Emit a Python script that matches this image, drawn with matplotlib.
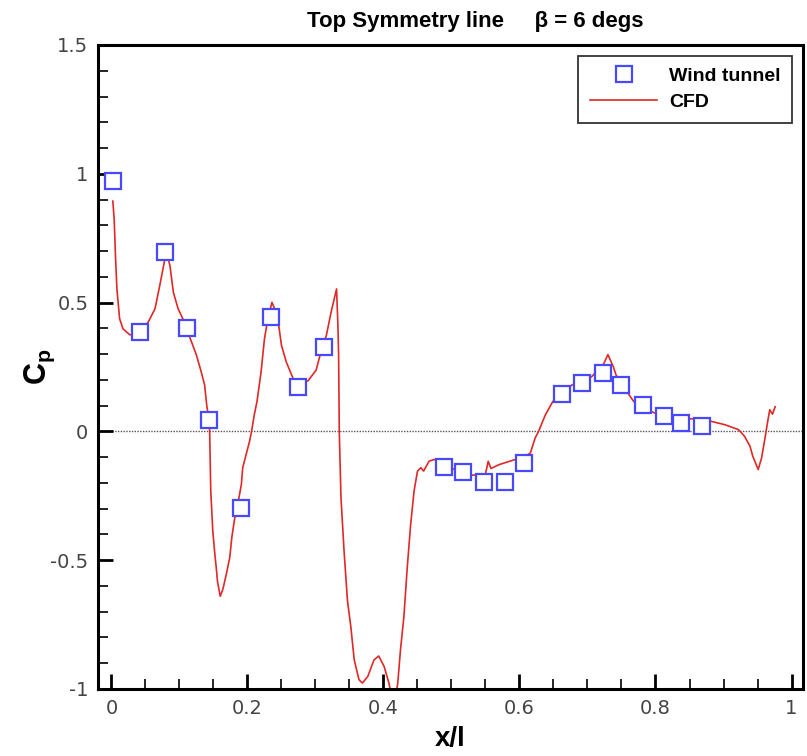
import matplotlib
matplotlib.use("Agg")
import matplotlib.pyplot as plt
from matplotlib.ticker import MultipleLocator
from matplotlib.legend_handler import HandlerLine2D

plt.rcParams['font.family'] = ['Liberation Sans', 'DejaVu Sans']
plt.rcParams['axes.unicode_minus'] = False
plt.rcParams['mathtext.default'] = 'regular'

# Wind tunnel pressure taps along the top symmetry line
wt_x = [0.002, 0.042, 0.079, 0.111, 0.143, 0.191, 0.235, 0.274, 0.313,
        0.489, 0.517, 0.548, 0.579, 0.606, 0.663, 0.692, 0.723, 0.750,
        0.781, 0.812, 0.838, 0.869]
wt_cp = [0.971, 0.386, 0.697, 0.402, 0.044, -0.297, 0.445, 0.171, 0.327,
         -0.139, -0.159, -0.197, -0.197, -0.122, 0.145, 0.188, 0.225, 0.182,
         0.101, 0.059, 0.034, 0.022]

# CFD surface pressure extracted on the same line
cfd_x = [0.002, 0.004, 0.006, 0.008, 0.012, 0.017, 0.027, 0.035, 0.042, 0.054,
         0.064, 0.071, 0.078, 0.082, 0.086, 0.091, 0.098, 0.105, 0.115, 0.125,
         0.132, 0.137, 0.140, 0.143, 0.1444, 0.146, 0.149, 0.152, 0.154, 0.156,
         0.160, 0.164, 0.169, 0.174, 0.177, 0.181, 0.187, 0.191, 0.193, 0.198,
         0.203, 0.206, 0.210, 0.214, 0.220, 0.225, 0.230, 0.236, 0.240, 0.246,
         0.250, 0.257, 0.267, 0.274, 0.289, 0.301, 0.308, 0.316, 0.323, 0.331,
         0.333, 0.334, 0.335, 0.3375, 0.342, 0.347, 0.352, 0.357, 0.364, 0.369,
         0.377, 0.386, 0.393, 0.401, 0.408, 0.412, 0.418, 0.421, 0.425, 0.430,
         0.435, 0.440, 0.445, 0.450, 0.455, 0.459, 0.467, 0.474, 0.490, 0.504,
         0.517, 0.531, 0.550, 0.554, 0.558, 0.570, 0.589, 0.606, 0.616, 0.623,
         0.628, 0.638, 0.649, 0.663, 0.677, 0.692, 0.706, 0.724, 0.730, 0.738,
         0.742, 0.758, 0.768, 0.781, 0.799, 0.812, 0.829, 0.856, 0.882, 0.902,
         0.922, 0.931, 0.939, 0.943, 0.951, 0.956, 0.961, 0.965, 0.968, 0.972,
         0.976]
cfd_cp = [0.894, 0.823, 0.675, 0.553, 0.437, 0.398, 0.375, 0.378, 0.392, 0.424,
          0.476, 0.566, 0.662, 0.685, 0.643, 0.540, 0.476, 0.437, 0.366, 0.296,
          0.231, 0.180, 0.103, 0.051, 0.0, -0.231, -0.386, -0.476, -0.527, -0.585,
          -0.640, -0.611, -0.553, -0.489, -0.411, -0.341, -0.264, -0.206, -0.141, -0.090,
          -0.039, 0.0, 0.064, 0.116, 0.231, 0.360, 0.437, 0.501, 0.476, 0.411,
          0.334, 0.270, 0.206, 0.193, 0.196, 0.238, 0.309, 0.373, 0.463, 0.553,
          0.411, 0.300, 0.0, -0.257, -0.463, -0.656, -0.759, -0.887, -0.964, -0.977,
          -0.951, -0.887, -0.872, -0.913, -0.977, -1.03, -1.03, -0.977, -0.848, -0.720,
          -0.527, -0.360, -0.231, -0.154, -0.141, -0.154, -0.116, -0.109, -0.125, -0.148,
          -0.160, -0.170, -0.165, -0.116, -0.144, -0.129, -0.113, -0.100, -0.084, -0.026,
          0.0, 0.064, 0.116, 0.150, 0.180, 0.196, 0.212, 0.263, 0.298, 0.251,
          0.219, 0.154, 0.116, 0.095, 0.071, 0.058, 0.049, 0.049, 0.039, 0.026,
          0.007, -0.019, -0.058, -0.096, -0.148, -0.103, -0.026, 0.039, 0.084, 0.067,
          0.096]

x_ticks = [0, 0.2, 0.4, 0.6, 0.8, 1.0]
x_tick_labels = ['0', '0.2', '0.4', '0.6', '0.8', '1']
y_ticks = [-1, -0.5, 0, 0.5, 1, 1.5]
y_tick_labels = ['-1', '-0.5', '0', '0.5', '1', '1.5']


class LeftMarkerHandler(HandlerLine2D):
    """Legend handler that puts a single marker left of the handle centre."""

    def get_xdata(self, legend, xdescent, ydescent, width, height, fontsize):
        xdata, _ = super().get_xdata(legend, xdescent, ydescent, width, height, fontsize)
        return xdata, [-xdescent + 0.385 * width]


W, H = 807, 756
fig = plt.figure(figsize=(W / 100, H / 100), dpi=100)
ax = fig.add_axes([98 / W, 1 - 689 / H, (803 - 98) / W, (689 - 45) / H])

ax.axhline(0, color='#555555', lw=1.0, ls=(0, (1, 1)), zorder=1)
ax.plot(cfd_x, cfd_cp, color='#e02828', lw=1.2, label='CFD', zorder=2)
wt_line, = ax.plot(wt_x, wt_cp, ls='none', marker='s', ms=11.5, mec='#4848ff',
                   mfc='white', mew=1.6, label='Wind tunnel', zorder=3)

ax.set_xlim(-0.0198, 1.0169)
ax.set_ylim(-1.0, 1.5)
ax.set_xticks(x_ticks)
ax.set_xticklabels(x_tick_labels)
ax.set_yticks(y_ticks)
ax.set_yticklabels(y_tick_labels)
ax.xaxis.set_minor_locator(MultipleLocator(0.05))
ax.yaxis.set_minor_locator(MultipleLocator(0.1))

ax.tick_params(which='both', direction='in', top=False, right=False, color='black')
ax.tick_params(which='major', length=11, width=2.0, pad=7, labelsize=14,
               labelcolor='#444444')
ax.tick_params(which='minor', length=7, width=1.2)
for lab in ax.get_xticklabels() + ax.get_yticklabels():
    lab.set_fontfamily(['DejaVu Sans'])
for s in ax.spines.values():
    s.set_linewidth(2.2)

aw, ah = 803 - 98, 689 - 45
ax.set_xlabel('x/l', fontsize=20, fontweight='bold')
ax.xaxis.set_label_coords((450 - 98) / aw, -(746 - 689) / ah)
ax.xaxis.label.set_verticalalignment('baseline')
ax.set_ylabel(r'C$_\mathregular{p}$', fontsize=22, fontweight='bold')
ax.yaxis.set_label_coords(-(98 - 57) / aw, (689 - 367) / ah)

fig.text(475 / W, 1 - 22 / H, 'Top Symmetry line     \u03b2 = 6 degs',
         ha='center', va='center', fontsize=16, fontweight='bold')

h, l = ax.get_legend_handles_labels()
leg = ax.legend(h[::-1], l[::-1], loc='upper right',
                bbox_to_anchor=(792 / W, 1 - 56 / H), bbox_transform=fig.transFigure,
                prop={'family': 'Liberation Sans', 'weight': 'bold', 'size': 14},
                frameon=True, fancybox=False, borderpad=0.6, labelspacing=0.42,
                handlelength=3.45, handletextpad=0.6, borderaxespad=0,
                handler_map={wt_line: LeftMarkerHandler(numpoints=1)})
leg.get_frame().set_edgecolor('black')
leg.get_frame().set_linewidth(1.3)

fig.savefig('out.png', dpi=100, facecolor='white')
